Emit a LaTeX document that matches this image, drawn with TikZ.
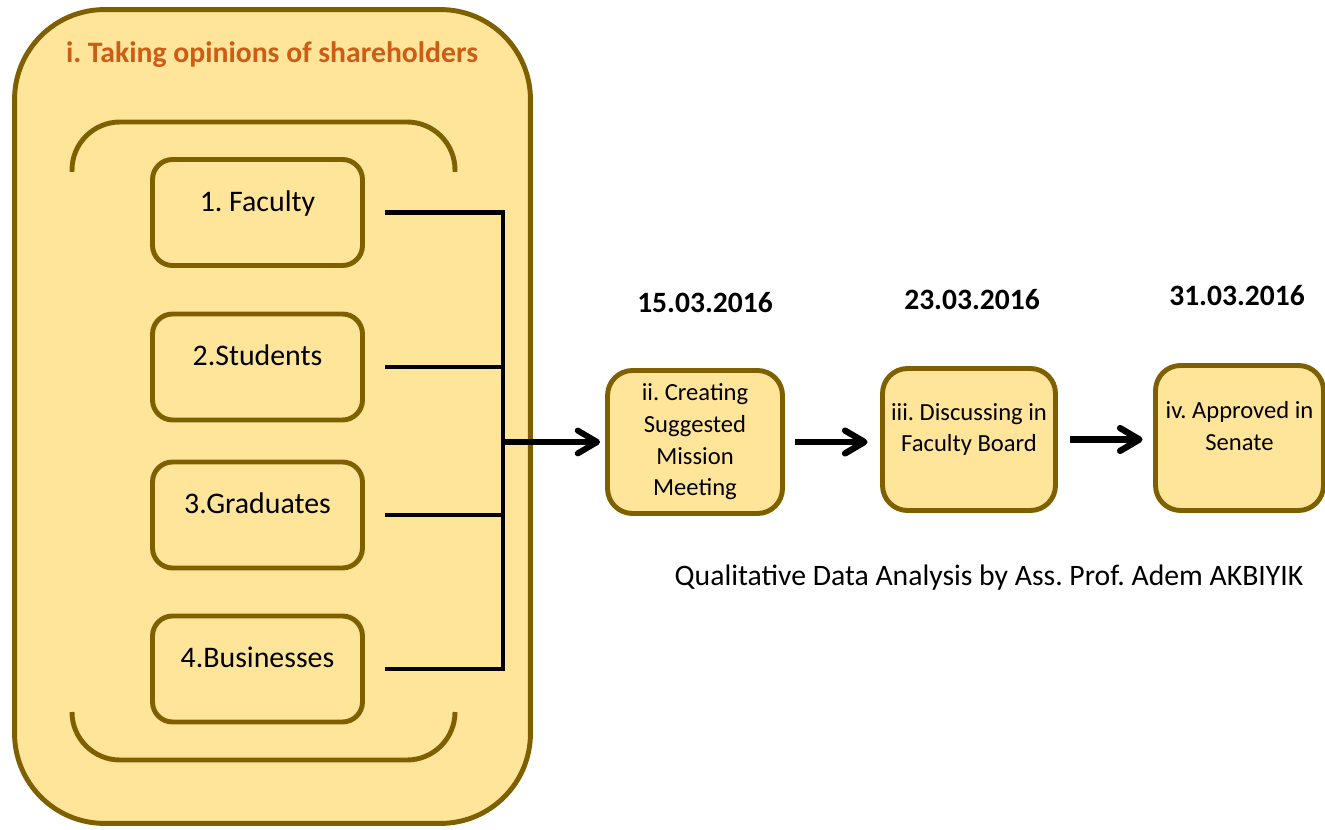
\documentclass[tikz,border=0pt]{standalone}
\usepackage{fontspec}
\setmainfont{Carlito}
\frenchspacing
\usetikzlibrary{arrows.meta}
\definecolor{boxfill}{HTML}{FFE599}
\definecolor{boxline}{HTML}{7F6000}
\definecolor{titleorange}{HTML}{CC5C16}
\tikzset{
    panel/.style={draw=boxline, fill=boxfill, line width=2.8pt, rounded corners=1.8cm, minimum width=10.32cm, minimum height=16.28cm},
    heading/.style={text=titleorange, font=\fontsize{16.9}{20}\selectfont\bfseries},
    bracket/.style={draw=boxline, line width=2.8pt, rounded corners=0.96cm},
    member/.style={draw=boxline, fill=boxfill, line width=2.8pt, rounded corners=0.4cm, minimum width=4.2cm, minimum height=2.12cm, text depth=13pt, font=\fontsize{17}{20}\selectfont},
    stage/.style={draw=boxline, fill=boxfill, line width=2.8pt, rounded corners=0.5cm, align=center, font=\fontsize{14}{18}\selectfont},
    datelabel/.style={font=\fontsize{16.8}{20}\selectfont\bfseries},
    link/.style={line width=2.8pt},
    feed/.style={line width=3pt, -{Straight Barb[length=11pt, width=13pt, line width=3.4pt, round]}},
    flow/.style={line width=3.6pt, -{Straight Barb[length=11pt, width=13pt, round]}}
}
\begin{document}
\begin{tikzpicture}[x=0.02cm, y=-0.02cm]
    \useasboundingbox (0,0) rectangle (1325,830);
    \node[panel] (opinions) at (272.5,416.5) {};
    \node[heading] (title) at (272,55) {i. Taking opinions of shareholders};
    \draw[bracket] (72,172) -- (72,122) -- (455,122) -- (455,172);
    \draw[bracket] (72,712) -- (72,760) -- (455,760) -- (455,712);

    \node[member] (faculty) at (257.5,212.5) {1. Faculty};
    \node[member] (students) at (257.5,367) {2.Students};
    \node[member] (graduates) at (257.5,515) {3.Graduates};
    \node[member] (businesses) at (257.5,669) {4.Businesses};

    \coordinate (junction) at (503,442);
    \foreach \m in {faculty,students,graduates,businesses}
        \draw[link] ([xshift=0.41cm]\m.east) -- (\m.east -| junction);
    \draw[link, line cap=rect] (faculty.east -| junction) -- (businesses.east -| junction);

    \node[stage, minimum width=3.5cm, minimum height=2.86cm] (creating) at (695,442) {ii. Creating\\Suggested\\Mission\\Meeting};
    \node[stage, minimum width=3.46cm, minimum height=2.84cm, text depth=13.5pt] (discussing) at (969,439.5) {iii. Discussing in\\Faculty Board};
    \node[stage, minimum width=3.36cm, minimum height=2.9cm, text depth=13.5pt] (approved) at (1239.5,438) {iv. Approved in\\Senate};

    \draw[feed, shorten >=0.1cm] (junction) -- (creating.west);
    \draw[flow, shorten >=0.25cm] ([xshift=0.21cm]creating.east) -- (creating.east -| discussing.west);
    \draw[flow, shorten >=0.21cm] ([xshift=0.25cm]discussing.east) -- (discussing.east -| approved.west);

    \node[datelabel] (creatingdate) at (705,303) {15.03.2016};
    \node[datelabel] (discussingdate) at (972,300) {23.03.2016};
    \node[datelabel] (approveddate) at (1237,296) {31.03.2016};

    \node[font=\fontsize{16.9}{20}\selectfont] (credit) at (989,578) {Qualitative Data Analysis by Ass. Prof. Adem AKBIYIK};
\end{tikzpicture}
\end{document}
